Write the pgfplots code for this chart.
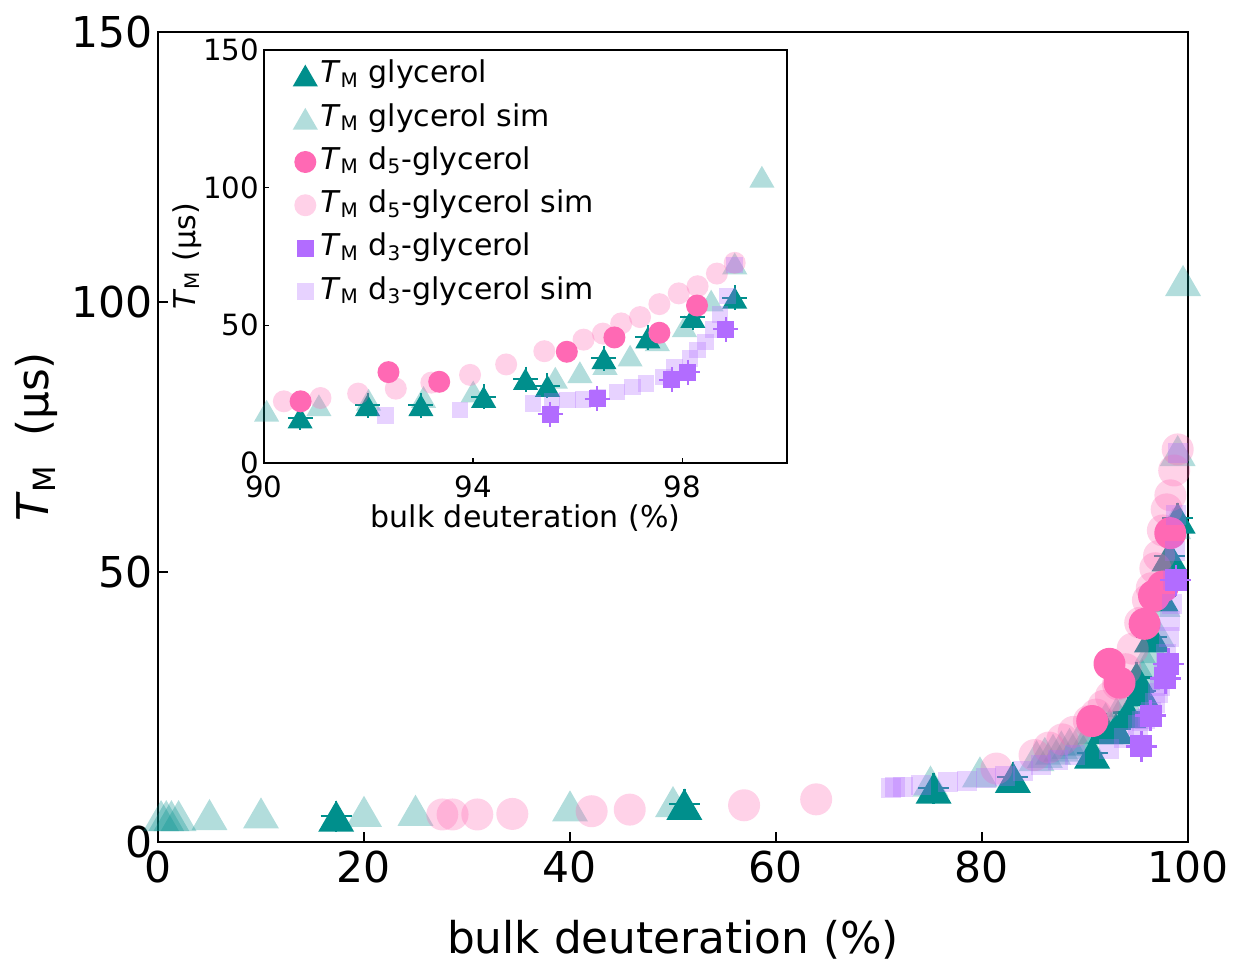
\documentclass[border=0pt]{standalone}
\usepackage{pgfplots}
\pgfplotsset{compat=1.18}
\usepackage{pgfplotstable}
\usepackage{fontspec}
\setmainfont{DejaVu Sans}

\definecolor{teal1}{RGB}{0,143,140}
\definecolor{pink1}{RGB}{255,105,180}
\definecolor{purp1}{RGB}{178,108,255}

\pgfplotstableread{
x y
17.3 4.8
51.1 7.0
75.3 10.0
83.0 12.0
90.69 16.5
91.98 21
93.0 21
94.2 24
95.0 30.5
95.42 28
96.5 38
97.34 45.6
98.2 53
99.0 60
}\glyc

\pgfplotstableread{
x y
0.3 4.9
0.8 4.9
1.3 4.9
2.0 4.9
5.0 5.1
10.0 5.4
20.0 5.7
25.0 5.9
40.0 6.7
50.0 7.5
75.0 11.3
79.8 13.0
85.3 16.0
86.1 16.6
86.9 17.2
87.7 17.8
88.5 18.3
89.3 18.8
90.05 19.0
91.05 21
92.0 23
93.05 24
94.0 26
95.57 31
96.04 33
96.52 36
97.0 39
97.52 44.6
98.04 49.7
98.55 59
99.0 72.5
99.52 104
}\glycsim

\pgfplotstableread{
x y
90.7 22.4
92.38 33
93.35 29.5
95.79 40.4
96.7 45.6
97.56 47.3
98.28 57.2
}\dfive

\pgfplotstableread{
x y
27.6 5.1
28.6 5.1
31.0 5.1
34.4 5.2
42.1 5.7
45.8 6.0
56.9 6.8
63.9 7.9
81.4 13.6
85.1 16.1
86.5 17.5
87.8 19.0
88.9 20.4
90.38 22.4
91.08 23.6
91.8 25.2
92.52 27
93.2 29.2
93.94 32
94.63 35.8
95.36 40.6
96.11 44.8
96.48 47
96.83 50.7
97.19 53
97.56 57.7
97.93 61.6
98.29 64.2
98.66 68.8
99.0 72.7
}\dfivesim

\pgfplotstableread{
x y
95.47 17.7
96.37 23.4
97.8 30.3
98.1 33
98.83 48.5
}\dthree

\pgfplotstableread{
x y
71.2 10.0
71.6 10.1
72.3 10.2
74.1 10.5
76.7 11.1
78.5 11.3
80.4 11.8
82.2 12.3
84.0 13.2
85.7 14.2
87.4 15.2
89.0 16.2
92.32 17.3
93.75 19.2
95.14 21.6
95.51 22.5
95.8 22.8
96.1 23.1
96.39 24
96.75 25.8
97.05 27.6
97.3 28.8
97.63 31.2
97.85 34.9
98.15 37.9
98.29 41
98.44 44
98.59 48.5
98.72 53.9
98.86 60.6
99.0 72
}\dthreesim

\newcommand{\TM}{\textit{T}\textsubscript{M}}

\pgfplotsset{
  solidmk/.style={only marks, color=#1, mark options={draw=#1, fill=#1, draw opacity=0}},
  simmk/.style={only marks, color=#1, mark options={draw=#1, fill=#1, fill opacity=0.3, draw opacity=0}},
  crossmk/.style={only marks, color=#1, mark=+},
}

\begin{document}
\begin{tikzpicture}
\path[use as bounding box] (-63.2pt,-49.2pt) rectangle (430pt,336.8pt);
% ---------------- main axis ----------------
\begin{axis}[
  at={(0pt,0pt)}, anchor=south west,
  width=412pt, height=324pt, scale only axis,
  xmin=0, xmax=100, ymin=0, ymax=150,
  xtick={0,20,40,60,80,100}, ytick={0,50,100,150},
  tick align=inside, xtick pos=bottom, ytick pos=left,
  major tick length=4pt,
  axis line style={line width=1pt},
  every tick/.style={black, line width=0.8pt},
  clip=false,
  /pgf/number format/assume math mode=true,
  tick label style={font=\fontsize{17}{20}\selectfont},
  yticklabel style={xshift=1.5pt},
  xlabel={bulk deuteration (\%)},
  ylabel={\TM\ \ (µs)},
  label style={font=\fontsize{17.5}{21}\selectfont},
  xlabel style={at={(axis description cs:0.5,-0.121)}, anchor=center},
  ylabel style={at={(axis description cs:-0.1184,0.5)}, anchor=center},
]
\addplot[solidmk=teal1, mark=triangle*, mark size=8.3pt, every mark/.append style={yshift=-2.1pt}] table {\glyc};
\addplot[crossmk=teal1, mark size=6.2pt, every mark/.append style={line width=1pt}] table {\glyc};
\addplot[simmk=teal1, mark=triangle*, mark size=8.3pt, every mark/.append style={yshift=-2.1pt}] table {\glycsim};
\addplot[solidmk=pink1, mark=*, mark size=6.4pt] table {\dfive};
\addplot[simmk=pink1, mark=*, mark size=6.4pt] table {\dfivesim};
\addplot[solidmk=purp1, mark=square*, mark size=4.4pt] table {\dthree};
\addplot[crossmk=purp1, mark size=6.2pt, every mark/.append style={line width=1pt}] table {\dthree};
\addplot[simmk=purp1, mark=square*, mark size=4.0pt] table {\dthreesim};
\end{axis}
% ---------------- inset ----------------
\begin{axis}[
  at={(42.4pt,151.6pt)}, anchor=south west,
  width=209.2pt, height=165.2pt, scale only axis,
  xmin=90, xmax=100, ymin=0, ymax=150,
  xtick={90,94,98}, ytick={0,50,100,150},
  tick align=inside, xtick pos=bottom, ytick pos=left,
  major tick length=2pt,
  axis line style={line width=0.6pt},
  every tick/.style={black, line width=0.6pt},
  axis background/.style={fill=white},
  clip=false,
  restrict x to domain=89.9:100,
  /pgf/number format/assume math mode=true,
  tick label style={font=\fontsize{11.7}{14}\selectfont},
  xticklabel style={yshift=-1.5pt},
  yticklabel style={xshift=1.5pt},
  xlabel={bulk deuteration (\%)},
  ylabel={\TM\ (µs)},
  label style={font=\fontsize{12}{14}\selectfont},
  xlabel style={at={(axis description cs:0.5,-0.133)}, anchor=center},
  ylabel style={at={(axis description cs:-0.147,0.5)}, anchor=center},
  legend cell align=left,
  legend image code/.code={\draw[mark repeat=2,mark phase=2,#1] plot coordinates {(0cm,0cm) (0.15cm,0cm) (0.3cm,0cm)};},
  legend style={at={(axis description cs:0,1)}, anchor=north west, xshift=11.3pt, yshift=-3pt,
    draw=none, fill=none, inner sep=0pt, row sep=3.3pt,
    font=\fontsize{12}{14}\selectfont,
    nodes={inner sep=1pt, text height=9pt, text depth=3pt}},
]
\addplot[solidmk=teal1, mark=triangle*, mark size=5.8pt, every mark/.append style={yshift=-1.45pt}] table {\glyc};
\addlegendentry{\TM\ glycerol}
\addplot[forget plot, crossmk=teal1, mark size=5pt, every mark/.append style={line width=0.8pt}] table {\glyc};
\addplot[simmk=teal1, mark=triangle*, mark size=5.8pt, every mark/.append style={yshift=-1.45pt}] table {\glycsim};
\addlegendentry{\TM\ glycerol sim}
\addplot[solidmk=pink1, mark=*, mark size=4.4pt] table {\dfive};
\addlegendentry{\TM\ d\textsubscript{5}-glycerol}
\addplot[simmk=pink1, mark=*, mark size=4.4pt] table {\dfivesim};
\addlegendentry{\TM\ d\textsubscript{5}-glycerol sim}
\addplot[solidmk=purp1, mark=square*, mark size=3.4pt] table {\dthree};
\addlegendentry{\TM\ d\textsubscript{3}-glycerol}
\addplot[forget plot, crossmk=purp1, mark size=5pt, every mark/.append style={line width=0.8pt}] table {\dthree};
\addplot[simmk=purp1, mark=square*, mark size=3.3pt] table {\dthreesim};
\addlegendentry{\TM\ d\textsubscript{3}-glycerol sim}
\end{axis}
\end{tikzpicture}
\end{document}
